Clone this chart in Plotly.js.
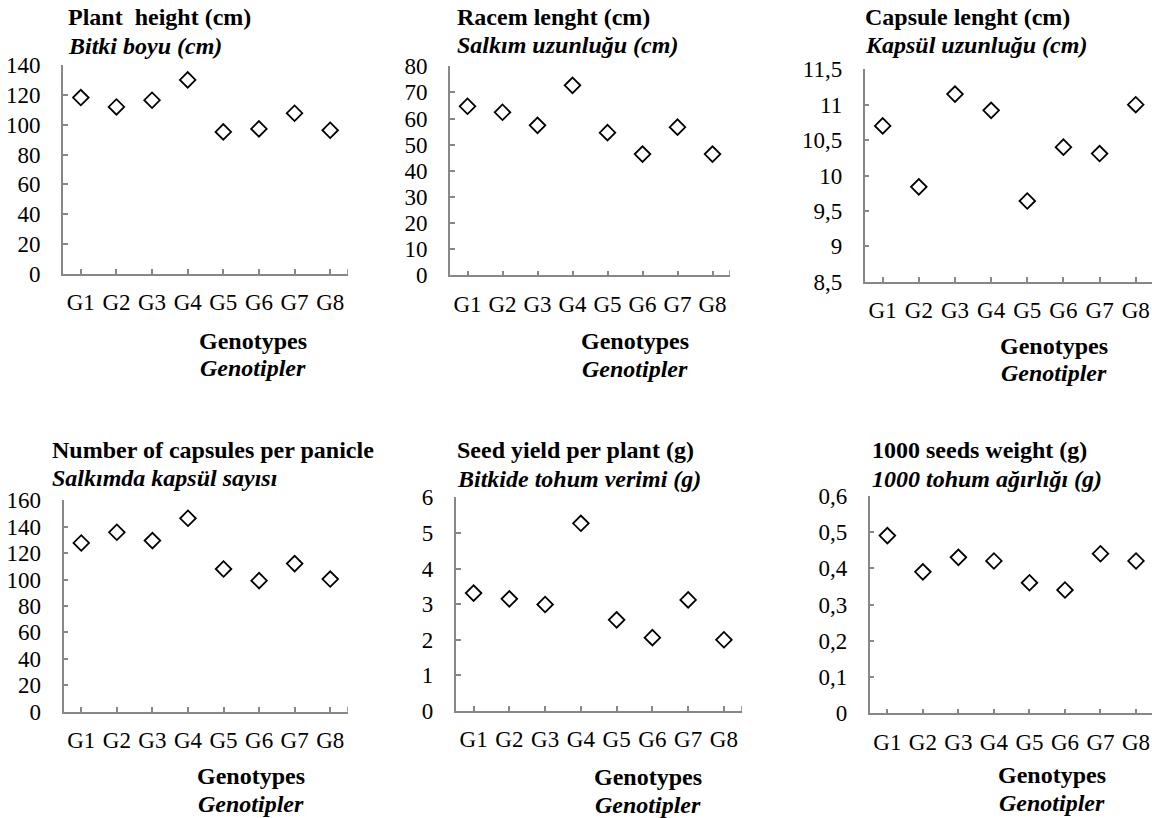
<!DOCTYPE html>
<html>
<head>
<meta charset="utf-8">
<script src="https://cdn.plot.ly/plotly-3.0.1.min.js"></script>
</head>
<body style="margin:0;background:#fff">
<div id="chart" style="width:1152px;height:818px"></div>
<script>
// ---- data ----
const genotypes = ["G1", "G2", "G3", "G4", "G5", "G6", "G7", "G8"];

const plantHeight    = [118.2, 111.9, 116.4, 130.0, 95.2, 97.2, 107.7, 96.3];
const racemLength    = [64.7, 62.4, 57.4, 72.7, 54.6, 46.4, 56.7, 46.4];
const capsuleLength  = [10.70, 9.84, 11.15, 10.92, 9.64, 10.40, 10.31, 11.00];
const capsulesPerPan = [127.7, 135.8, 129.5, 146.4, 108.0, 99.2, 112.1, 100.4];
const seedYield      = [3.31, 3.15, 2.99, 5.27, 2.56, 2.06, 3.12, 2.00];
const seedWeight1000 = [0.49, 0.39, 0.43, 0.42, 0.36, 0.34, 0.44, 0.42];

const titlesEn = ["Plant&nbsp; height (cm)", "Racem lenght (cm)", "Capsule lenght (cm)",
                  "Number of capsules per panicle", "Seed yield per plant (g)", "1000 seeds weight (g)"];
const titlesTr = ["Bitki boyu (cm)", "Salkım uzunluğu (cm)", "Kapsül uzunluğu (cm)",
                  "Salkımda kapsül sayısı", "Bitkide tohum verimi (g)", "1000 tohum ağırlığı (g)"];
const xTitleEn = "Genotypes";
const xTitleTr = "Genotipler";

// ---- layout (pixel geometry) ----
const W = 1152, H = 818;
const series = [plantHeight, racemLength, capsuleLength, capsulesPerPan, seedYield, seedWeight1000];
const panels = [
  {x0: 63,    x1: 348,   y0: 65,    y1: 274,   yr: [0, 140],   dt: 20,  xr: [-0.5, 7.5],  tx: 66,  ty1: 17,  ty2: 46,  gx: 253,   gy1: 341, gy2: 368},
  {x0: 450,   x1: 730,   y0: 66.3,  y1: 275.3, yr: [0, 80],    dt: 10,  xr: [-0.5, 7.5],  tx: 455, ty1: 17,  ty2: 45,  gx: 634.5, gy1: 341, gy2: 369},
  {x0: 864.6, x1: 1152,  y0: 69.3,  y1: 281.7, yr: [8.5, 11.5], dt: 0.5, xr: [-0.5, 7.45], tx: 863, ty1: 17,  ty2: 45,  gx: 1054,  gy1: 346, gy2: 373},
  {x0: 63.5,  x1: 348,   y0: 500.3, y1: 711.7, yr: [0, 160],   dt: 20,  xr: [-0.5, 7.5],  tx: 50,  ty1: 450, ty2: 478, gx: 250.7, gy1: 776, gy2: 804},
  {x0: 455.7, x1: 741.8, y0: 497.3, y1: 711,   yr: [0, 6],     dt: 1,   xr: [-0.5, 7.5],  tx: 455, ty1: 450, ty2: 479, gx: 647.8, gy1: 777, gy2: 805},
  {x0: 869.6, x1: 1152,  y0: 495.7, y1: 713.3, yr: [0, 0.6],   dt: 0.1, xr: [-0.5, 7.45], tx: 870, ty1: 450, ty2: 479, gx: 1052,  gy1: 775, gy2: 803}
];

const FONT = "Liberation Serif";
const AXIS_COLOR = '#878787';

const data = [];
const layout = {
  width: W, height: H,
  margin: {l: 0, r: 0, t: 0, b: 0},
  paper_bgcolor: '#fff', plot_bgcolor: '#fff',
  showlegend: false,
  separators: ', ',
  annotations: [],
  shapes: []
};

panels.forEach((p, i) => {
  const n = i + 1;
  const xa = 'x' + (n === 1 ? '' : n);
  const ya = 'y' + (n === 1 ? '' : n);
  data.push({
    type: 'scatter', mode: 'markers',
    x: genotypes, y: series[i],
    xaxis: xa, yaxis: ya,
    marker: {symbol: 'diamond-open', size: 12, color: '#000', line: {width: 1.8, color: '#000'}},
    cliponaxis: false
  });
  layout['xaxis' + (n === 1 ? '' : n)] = {
    domain: [p.x0 / W, p.x1 / W],
    anchor: ya,
    type: 'category',
    range: p.xr,
    showgrid: false, zeroline: false,
    showline: true, linecolor: AXIS_COLOR, linewidth: 1.6,
    ticks: 'inside', ticklen: 5, tickwidth: 1.6, tickcolor: AXIS_COLOR,
    ticklabelstandoff: 7,
    tickfont: {family: FONT, size: 23, color: '#000'},
    fixedrange: true
  };
  layout['yaxis' + (n === 1 ? '' : n)] = {
    domain: [1 - p.y1 / H, 1 - p.y0 / H],
    anchor: xa,
    range: p.yr, dtick: p.dt, tick0: p.yr[0],
    showgrid: false, zeroline: false,
    showline: true, linecolor: AXIS_COLOR, linewidth: 1.6,
    ticks: 'inside', ticklen: 5, tickwidth: 1.6, tickcolor: AXIS_COLOR,
    ticklabelstandoff: 16,
    tickfont: {family: FONT, size: 23, color: '#000'},
    fixedrange: true
  };
  if (p.xr[1] >= 7.5) {
    layout.shapes.push({type: 'line', xref: xa, yref: ya, x0: 7.5, x1: 7.5,
      ysizemode: 'pixel', yanchor: p.yr[0], y0: 0, y1: 5,
      line: {color: AXIS_COLOR, width: 1.6}});
  }
  const ann = (text, x, y, xanchor, italic) => ({
    xref: 'paper', yref: 'paper', x: x / W, y: 1 - y / H,
    xanchor: xanchor, yanchor: 'middle', showarrow: false,
    text: (italic ? '<b><i>' + text + '</i></b>' : '<b>' + text + '</b>'),
    font: {family: FONT, size: 24, color: '#000'}, align: 'left'
  });
  layout.annotations.push(ann(titlesEn[i], p.tx, p.ty1, 'left', false));
  layout.annotations.push(ann(titlesTr[i], p.tx, p.ty2, 'left', true));
  layout.annotations.push(ann(xTitleEn, p.gx, p.gy1, 'center', false));
  layout.annotations.push(ann(xTitleTr, p.gx, p.gy2, 'center', true));
});

Plotly.newPlot('chart', data, layout, {displayModeBar: false});
</script>
</body>
</html>
